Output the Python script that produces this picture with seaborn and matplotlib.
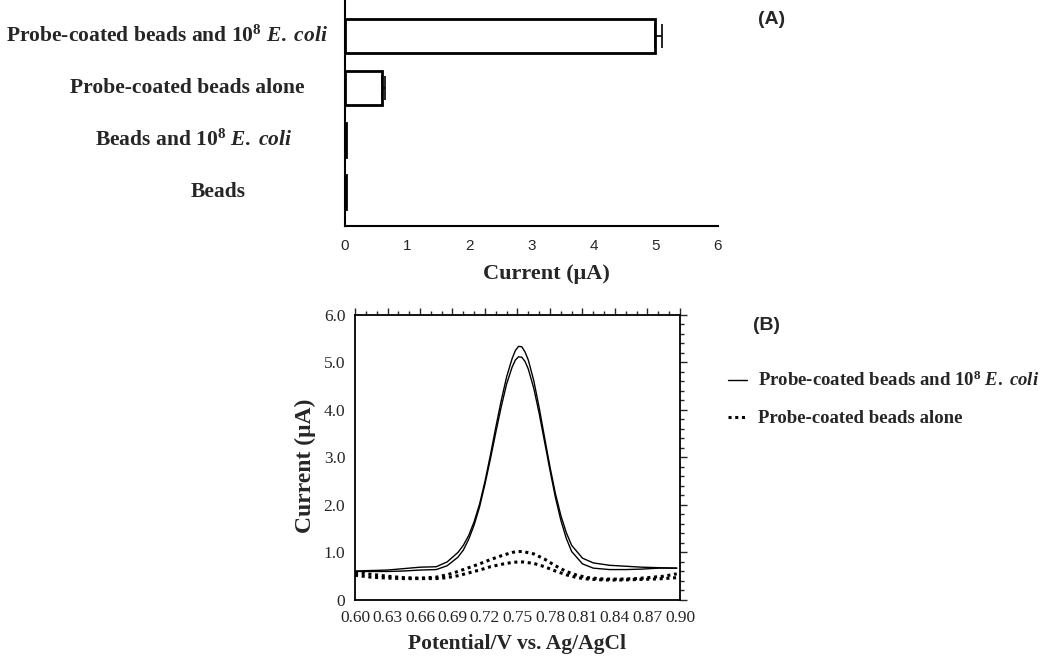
import numpy as np
import pandas as pd
import matplotlib
matplotlib.use("Agg")
import matplotlib.pyplot as plt
from matplotlib.ticker import MultipleLocator, FixedLocator
import seaborn as sns

# ==========================================
# DATA
# ==========================================

# panel A : bar chart
categories = [
    r"Probe-coated beads and 10$^{8}$ $\mathit{E.\;coli}$",
    "Probe-coated beads alone",
    r"Beads and 10$^{\mathbf{8}}$ $\mathit{E.\;coli}$",
    "Beads",
]
currents = [4.98, 0.59, 0.01, 0.01]
errors = [0.12, 0.06, 0.0, 0.0]
x_ticks_a = [0, 1, 2, 3, 4, 5, 6]

# panel B : voltammograms
pot_solid = [0.600, 0.615, 0.630, 0.645, 0.660, 0.675, 0.685, 0.695, 0.700,
             0.705, 0.710, 0.715, 0.720, 0.725, 0.730, 0.735, 0.740, 0.745,
             0.748, 0.751, 0.754, 0.757, 0.760, 0.765, 0.770, 0.775, 0.780,
             0.785, 0.790, 0.795, 0.800, 0.810, 0.820, 0.835, 0.850, 0.865,
             0.880, 0.897]
ecoli_run1 = [0.61, 0.62, 0.63, 0.66, 0.69, 0.70, 0.80, 1.00, 1.15,
              1.36, 1.65, 2.02, 2.50, 3.05, 3.64, 4.20, 4.70, 5.08,
              5.25, 5.34, 5.33, 5.22, 5.05, 4.62, 4.05, 3.42, 2.80,
              2.24, 1.78, 1.42, 1.15, 0.88, 0.78, 0.73, 0.71, 0.69,
              0.68, 0.67]
ecoli_run2 = [0.60, 0.60, 0.60, 0.61, 0.63, 0.64, 0.72, 0.90, 1.05,
              1.28, 1.58, 1.96, 2.44, 2.97, 3.53, 4.07, 4.55, 4.90,
              5.05, 5.12, 5.11, 5.02, 4.86, 4.46, 3.93, 3.33, 2.73,
              2.16, 1.68, 1.30, 1.02, 0.76, 0.67, 0.64, 0.64, 0.65,
              0.67, 0.67]

pot_dot = [0.600, 0.615, 0.630, 0.645, 0.660, 0.675, 0.685, 0.695, 0.705,
           0.715, 0.725, 0.735, 0.745, 0.750, 0.755, 0.765, 0.775, 0.785,
           0.795, 0.805, 0.815, 0.830, 0.845, 0.860, 0.875, 0.885, 0.897]
alone_run1 = [0.58, 0.54, 0.50, 0.47, 0.46, 0.48, 0.53, 0.60, 0.68,
              0.76, 0.85, 0.93, 1.00, 1.02, 1.02, 0.97, 0.86, 0.72,
              0.60, 0.52, 0.47, 0.44, 0.44, 0.45, 0.48, 0.50, 0.55]
alone_run2 = [0.52, 0.48, 0.46, 0.45, 0.45, 0.45, 0.47, 0.51, 0.57,
              0.63, 0.70, 0.75, 0.79, 0.80, 0.80, 0.77, 0.70, 0.61,
              0.53, 0.47, 0.44, 0.42, 0.42, 0.43, 0.44, 0.45, 0.47]

legend_labels = [r"Probe-coated beads and 10$^{8}$ $\mathit{E.\;coli}$",
                 "Probe-coated beads alone"]

# ==========================================
# STYLE
# ==========================================

sns.set_style("white")
plt.rcParams["font.family"] = ["Liberation Serif", "DejaVu Serif"]
plt.rcParams["mathtext.fontset"] = "custom"
plt.rcParams["mathtext.rm"] = "Liberation Serif:bold"
plt.rcParams["mathtext.bf"] = "Liberation Serif:bold"
plt.rcParams["mathtext.it"] = "Liberation Serif:italic:bold"

fig = plt.figure(figsize=(10.5, 6.62), dpi=100)

# ==========================================
# PANEL A
# ==========================================

ax1 = fig.add_axes([0.3286, 0.6586, 0.3552, 0.3414])

df_a = pd.DataFrame({"label": categories, "current": currents})
sns.barplot(data=df_a, x="current", y="label", orient="h", color="white",
            edgecolor="black", linewidth=2, width=0.65, errorbar=None, ax=ax1)
ax1.errorbar(currents[:2], [0, 1], xerr=[[0, 0], errors[:2]], fmt="none",
             ecolor="black", elinewidth=1.2, capsize=8.5, capthick=1.2)

ax1.set_xlim(0, 6)
ax1.set_ylim(3.65, -0.69)
ax1.xaxis.set_major_locator(FixedLocator(x_ticks_a))
ax1.set_xticklabels([str(t) for t in x_ticks_a], family="Liberation Sans",
                    fontsize=11)
ax1.set_yticks([])
ax1.set_ylabel("")
ax1.set_xlabel("Current (μA)", fontsize=16, fontweight="bold")
ax1.xaxis.set_label_coords(0.54, -0.17)
ax1.tick_params(axis="x", direction="out", length=6, width=1.2, pad=3)
sns.despine(ax=ax1)
for s in ["left", "bottom"]:
    ax1.spines[s].set_linewidth(1.5)
    ax1.spines[s].set_color("black")

label_pos = [(167, 36), (187, 88), (194, 140), (218, 192)]
for lab, (px, py) in zip(categories, label_pos):
    fig.text(px / 1050, 1 - py / 662, lab, ha="center", va="center",
             fontsize=15.5, fontweight="bold")

fig.text(772 / 1050, 1 - 20 / 662, "(A)", ha="center", va="center",
         family="Liberation Sans", fontsize=14, fontweight="bold")

# ==========================================
# PANEL B
# ==========================================

ax2 = fig.add_axes([0.3381, 0.0937, 0.3095, 0.4305])

sns.lineplot(x=pot_solid, y=ecoli_run1, color="black", lw=1.0,
             label=legend_labels[0], ax=ax2)
sns.lineplot(x=pot_solid, y=ecoli_run2, color="black", lw=1.0, ax=ax2)
sns.lineplot(x=pot_dot, y=alone_run1, color="black", lw=2.2,
             linestyle=(0, (1, 1.2)), label=legend_labels[1], ax=ax2)
sns.lineplot(x=pot_dot, y=alone_run2, color="black", lw=2.2,
             linestyle=(0, (1, 1.2)), ax=ax2)

ax2.set_xlim(0.60, 0.90)
ax2.set_ylim(0, 6.0)
ax2.xaxis.set_major_locator(MultipleLocator(0.03))
ax2.xaxis.set_minor_locator(MultipleLocator(0.01))
ax2.yaxis.set_major_locator(MultipleLocator(1.0))
ax2.yaxis.set_minor_locator(MultipleLocator(0.2))
ax2.set_xticklabels([f"{v:.2f}" for v in ax2.get_xticks()])
ax2.set_yticklabels(["0" if v == 0 else f"{v:.1f}" for v in ax2.get_yticks()])
ax2.tick_params(which="both", direction="out", top=True, right=True,
                labelsize=12.5, width=1.0, pad=2)
ax2.tick_params(which="major", length=5)
ax2.tick_params(which="minor", length=3)
for s in ax2.spines.values():
    s.set_linewidth(1.3)
    s.set_color("black")

ax2.set_xlabel("Potential/V vs. Ag/AgCl", fontsize=15.5, fontweight="bold",
               labelpad=6)
ax2.set_ylabel("Current (μA)", fontsize=17, fontweight="bold")
ax2.yaxis.set_label_coords(-0.12, 0.47)

ax2.legend(loc="upper left", bbox_to_anchor=(728 / 1050, 1 - 371 / 662),
           bbox_transform=fig.transFigure, frameon=False, borderaxespad=0,
           borderpad=0, handlelength=1.0, handletextpad=0.6,
           labelspacing=1.05, prop={"family": "Liberation Serif",
                                    "weight": "bold", "size": 13.5})

fig.text(767 / 1050, 1 - 325 / 662, "(B)", ha="center", va="center",
         family="Liberation Sans", fontsize=14, fontweight="bold")

fig.savefig("out.png", dpi=100)
